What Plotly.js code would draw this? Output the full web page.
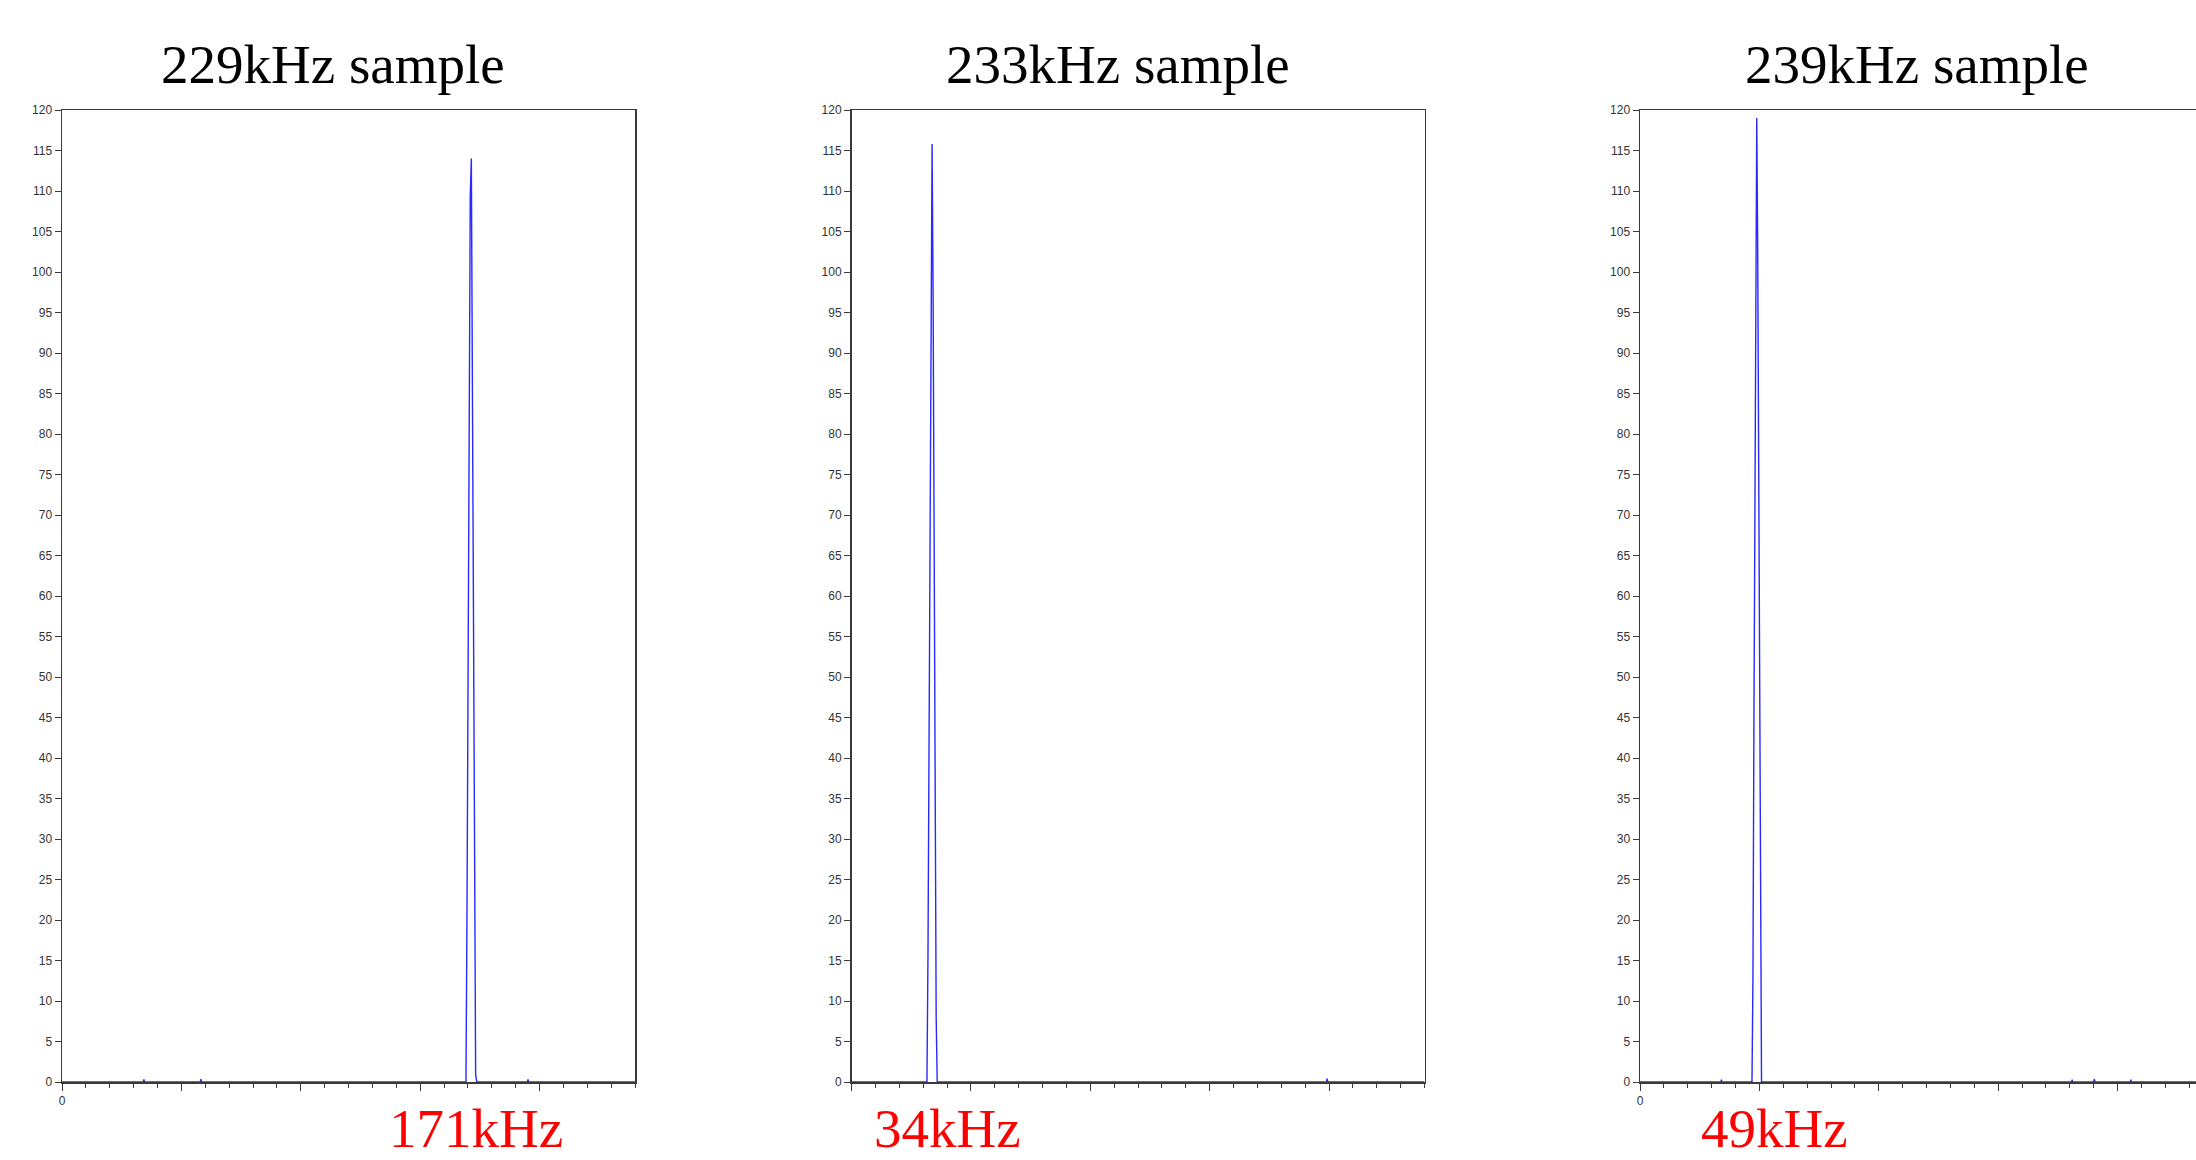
<!DOCTYPE html>
<html>
<head>
<meta charset="utf-8">
<script src="https://cdn.plot.ly/plotly-3.0.1.min.js"></script>
<style>
  html, body { margin: 0; padding: 0; background: #ffffff; overflow: hidden; }
  #wrap { width: 2196px; height: 1160px; overflow: hidden; position: relative; }
  #chart { width: 2230px; height: 1160px; }
</style>
</head>
<body>
<div id="wrap"><div id="chart"></div></div>
<script>
// ---- data (frequency in kHz, FFT magnitude) ----
const panelTitles = ["229kHz sample", "233kHz sample", "239kHz sample"];
const peakLabels = ["171kHz", "34kHz", "49kHz"];

const freq229 = [0, 34.0, 34.3, 34.6, 57.9, 58.2, 58.5,
  169.2, 169.65, 170.1, 170.55, 171.0, 171.45, 171.9, 172.35, 172.8, 173.25, 173.7,
  194.9, 195.2, 195.5, 240];
const amp229 = [0, 0, 0.3, 0, 0, 0.35, 0,
  0, 22, 51, 80, 109.4, 114, 89, 60, 30, 1, 0,
  0, 0.3, 0, 0];

const freq233 = [0, 31.6, 32.03, 32.46, 32.89, 33.32, 33.75, 34.18, 34.61, 35.04, 35.47, 35.9,
  198.9, 199.2, 199.5, 240];
const amp233 = [0, 0, 15.5, 45, 75, 104.6, 115.8, 97.2, 67, 37, 8, 0,
  0, 0.4, 0, 0];

const freq239 = [0, 33.9, 34.1, 34.3,
  46.9, 47.3, 47.7, 48.1, 48.5, 48.9, 49.3, 49.7, 50.1, 50.5, 50.9,
  180.8, 181.0, 181.2, 190.0, 190.3, 190.6, 205.4, 205.6, 205.8, 240];
const amp239 = [0, 0, 0.3, 0,
  0, 12.5, 43, 73.5, 104, 119, 103, 72, 42, 11.5, 0,
  0, 0.3, 0, 0, 0.35, 0, 0, 0.3, 0, 0];

const xTickVals = [0, 50, 100, 150, 200];
// only the origin label is printed (none under the middle panel)
const xTickTexts = [["0", "", "", "", ""], ["", "", "", "", ""], ["0", "", "", "", ""]];

// ---- layout helpers ----
const W = 2230, H = 1160;
const axisColor = "#3a3a3a";
const tickFont = { family: "Liberation Sans, Arial, sans-serif", size: 12, color: "#333333" };
const yDom = [(H - 1082) / H, (H - 110) / H];
const xPix = [[62, 635], [851.5, 1424.5], [1640, 2213]];

function xAxis(i) {
  return {
    domain: [xPix[i][0] / W, xPix[i][1] / W],
    range: [0, 240],
    anchor: i === 0 ? "y" : "y" + (i + 1),
    tickmode: "array", tickvals: xTickVals, ticktext: xTickTexts[i],
    ticks: "outside", ticklen: 7, tickwidth: 1, tickcolor: axisColor,
    minor: { tick0: 0, dtick: 10, ticks: "outside", ticklen: 4, tickwidth: 1, tickcolor: axisColor, showgrid: false },
    showline: true, linecolor: axisColor, linewidth: 1.5, mirror: true,
    showgrid: false, zeroline: false, tickfont: tickFont, fixedrange: true
  };
}
function yAxis(i) {
  return {
    domain: yDom,
    range: [0, 120],
    anchor: i === 0 ? "x" : "x" + (i + 1),
    tickmode: "linear", tick0: 0, dtick: 5,
    ticks: "outside", ticklen: 6, tickwidth: 1, tickcolor: axisColor,
    showline: true, linecolor: axisColor, linewidth: 1.5, mirror: true,
    showgrid: false, zeroline: false, tickfont: tickFont, fixedrange: true
  };
}

const series = [[freq229, amp229], [freq233, amp233], [freq239, amp239]];
const traces = series.map((s, i) => ({
  x: s[0], y: s[1],
  xaxis: i === 0 ? "x" : "x" + (i + 1),
  yaxis: i === 0 ? "y" : "y" + (i + 1),
  type: "scatter", mode: "lines",
  line: { color: "rgb(40,40,255)", width: 1.4 },
  hoverinfo: "skip"
}));

const titleCenters = [333, 1118, 1917];
const labelCenters = [476, 947, 1774];
const annotations = [];
for (let i = 0; i < 3; i++) {
  annotations.push({
    text: panelTitles[i], xref: "paper", yref: "paper",
    x: titleCenters[i] / W, y: (H - 64) / H, xanchor: "center", yanchor: "middle",
    showarrow: false,
    font: { family: "Liberation Serif, Times New Roman, serif", size: 55, color: "#000000" }
  });
  annotations.push({
    text: peakLabels[i], xref: "paper", yref: "paper",
    x: labelCenters[i] / W, y: 0, xanchor: "center", yanchor: "bottom",
    borderpad: 0,
    showarrow: false,
    font: { family: "Liberation Serif, Times New Roman, serif", size: 55, color: "#ff0000" }
  });
}

const layout = {
  width: W, height: H,
  margin: { l: 0, r: 0, t: 0, b: 0, pad: 0 },
  paper_bgcolor: "#ffffff", plot_bgcolor: "#ffffff",
  showlegend: false,
  xaxis: xAxis(0), yaxis: yAxis(0),
  xaxis2: xAxis(1), yaxis2: yAxis(1),
  xaxis3: xAxis(2), yaxis3: yAxis(2),
  annotations: annotations
};

Plotly.newPlot("chart", traces, layout, { displayModeBar: false, staticPlot: true });
</script>
</body>
</html>
